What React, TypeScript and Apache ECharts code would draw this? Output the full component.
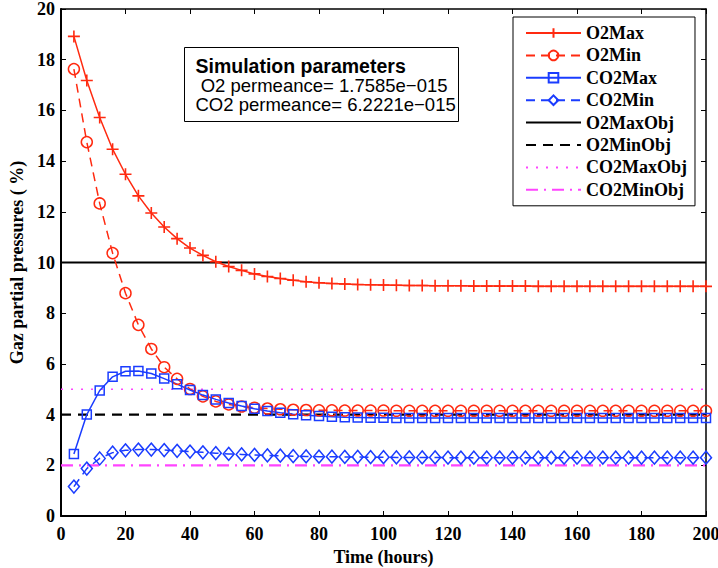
import React, { useEffect, useRef } from "react";
import * as echarts from "echarts";

const hours = [
  4, 8, 12, 16, 20, 24, 28, 32, 36, 40, 44, 48, 52, 56, 60, 64, 68, 72, 76, 80,
  84, 88, 92, 96, 100, 104, 108, 112, 116, 120, 124, 128, 132, 136, 140, 144, 148, 152, 156, 160,
  164, 168, 172, 176, 180, 184, 188, 192, 196, 200,
];

const o2Max = [
  18.92, 17.18, 15.72, 14.47, 13.48, 12.63, 11.95, 11.4, 10.94, 10.57, 10.28, 10.03, 9.84, 9.69, 9.55, 9.45, 9.37, 9.3, 9.24, 9.2,
  9.17, 9.15, 9.13, 9.12, 9.11, 9.1, 9.09, 9.09, 9.08, 9.08, 9.08, 9.07, 9.07, 9.07, 9.07, 9.07, 9.06, 9.06, 9.06, 9.06,
  9.06, 9.06, 9.06, 9.06, 9.06, 9.06, 9.06, 9.06, 9.06, 9.06,
];

const o2Min = [
  17.63, 14.75, 12.33, 10.37, 8.79, 7.54, 6.59, 5.87, 5.41, 5.01, 4.72, 4.52, 4.4, 4.32, 4.27, 4.24, 4.21, 4.19, 4.18, 4.17,
  4.17, 4.16, 4.16, 4.16, 4.16, 4.15, 4.15, 4.15, 4.15, 4.15, 4.15, 4.15, 4.15, 4.15, 4.15, 4.15, 4.15, 4.15, 4.15, 4.15,
  4.15, 4.15, 4.15, 4.15, 4.15, 4.15, 4.15, 4.15, 4.15, 4.15,
];

const co2Max = [
  2.45, 4.0, 4.95, 5.49, 5.71, 5.72, 5.62, 5.42, 5.2, 4.97, 4.77, 4.6, 4.46, 4.34, 4.23, 4.14, 4.07, 4.01, 3.97, 3.94,
  3.92, 3.9, 3.89, 3.88, 3.88, 3.87, 3.87, 3.87, 3.87, 3.87, 3.87, 3.87, 3.87, 3.87, 3.87, 3.87, 3.87, 3.87, 3.87, 3.87,
  3.87, 3.87, 3.87, 3.87, 3.87, 3.87, 3.87, 3.87, 3.87, 3.87,
];

const co2Min = [
  1.16, 1.87, 2.27, 2.5, 2.59, 2.62, 2.62, 2.6, 2.57, 2.54, 2.51, 2.48, 2.45, 2.43, 2.41, 2.39, 2.38, 2.36, 2.35, 2.34,
  2.34, 2.33, 2.33, 2.32, 2.32, 2.31, 2.31, 2.31, 2.31, 2.3, 2.3, 2.3, 2.3, 2.3, 2.3, 2.3, 2.3, 2.3, 2.3, 2.3,
  2.3, 2.3, 2.3, 2.3, 2.3, 2.3, 2.3, 2.3, 2.3, 2.3,
];

const objectiveNames = ["O2MaxObj", "O2MinObj", "CO2MaxObj", "CO2MinObj"];
const objectiveValues = [10, 4, 5, 2];
const objectiveSpan = [0, 200];

const boxTitle = "Simulation parameters";
const boxLines = [" O2 permeance= 1.7585e\u2212015", "CO2 permeance= 6.2221e\u2212015"];

const RED = "#ff2a10";
const BLUE = "#1a3cff";
const MAGENTA = "#ff44ff";
const SERIF = "'Liberation Serif', 'Times New Roman', serif";
const SANS = "'Liberation Sans', Arial, sans-serif";

export default function App() {
  const ref = useRef<HTMLDivElement>(null);

  useEffect(() => {
    if (!ref.current) return;
    const chart = echarts.init(ref.current, undefined, { renderer: "svg" });

    const pair = (arr: number[]) => hours.map((h, i) => [h, arr[i]]);
    const transparent = "rgba(0,0,0,0)";

    const objStyles = [
      { color: "#000", type: "solid", width: 2.2 },
      { color: "#000", type: [10, 7], width: 2.2 },
      { color: MAGENTA, type: [2, 8], width: 1.5 },
      { color: MAGENTA, type: [12, 6, 2, 6], width: 2.2 },
    ];

    const objSeries = objectiveNames.map((name, k) => ({
      name,
      type: "line",
      data: objectiveSpan.map((x) => [x, objectiveValues[k]]),
      showSymbol: false,
      symbol: "circle",
      symbolSize: 1,
      lineStyle: objStyles[k],
      itemStyle: { color: transparent, borderColor: transparent, borderWidth: 0 },
      z: 1,
    }));

    const option: any = {
      animation: false,
      textStyle: { fontFamily: SERIF },
      grid: { left: 61, right: 12, top: 9, bottom: 52, containLabel: false, outerBoundsMode: "none" },
      legend: {
        left: 513,
        top: 17,
        orient: "vertical",
        backgroundColor: "#fff",
        borderColor: "#000",
        borderWidth: 1,
        borderRadius: 0,
        padding: [7, 8, 7, 12],
        itemWidth: 55,
        itemHeight: 12,
        itemGap: 4.4,
        textStyle: { fontFamily: SERIF, fontWeight: "bold", fontSize: 18, color: "#000" },
        data: ["O2Max", "O2Min", "CO2Max", "CO2Min", ...objectiveNames],
      },
      xAxis: [
        {
          type: "value",
          min: 0,
          max: 200,
          interval: 20,
          name: "Time (hours)",
          nameLocation: "middle",
          nameGap: 29,
          nameTextStyle: { fontFamily: SERIF, fontWeight: "bold", fontSize: 18, color: "#000" },
          axisLine: { lineStyle: { color: "#000", width: 2 } },
          axisTick: { inside: true, length: 5, lineStyle: { color: "#000" } },
          axisLabel: { fontFamily: SERIF, fontWeight: "bold", fontSize: 18, color: "#000", margin: 9 },
          splitLine: { show: false },
        },
        {
          type: "value",
          position: "top",
          min: 0,
          max: 200,
          interval: 20,
          axisLine: { onZero: false, lineStyle: { color: "#000", width: 1.5 } },
          axisTick: { inside: true, length: 5, lineStyle: { color: "#000" } },
          axisLabel: { show: false },
          splitLine: { show: false },
        },
      ],
      yAxis: [
        {
          type: "value",
          min: 0,
          max: 20,
          interval: 2,
          name: "Gaz partial pressures ( %)",
          nameLocation: "middle",
          nameGap: 33,
          nameTextStyle: { fontFamily: SERIF, fontWeight: "bold", fontSize: 18, color: "#000" },
          axisLine: { show: true, lineStyle: { color: "#000", width: 2 } },
          axisTick: { show: true, inside: true, length: 5, lineStyle: { color: "#000" } },
          axisLabel: { fontFamily: SERIF, fontWeight: "bold", fontSize: 18, color: "#000", margin: 6 },
          splitLine: { show: false },
        },
        {
          type: "value",
          position: "right",
          min: 0,
          max: 20,
          interval: 2,
          axisLine: { show: true, onZero: false, lineStyle: { color: "#000", width: 1.5 } },
          axisTick: { show: true, inside: true, length: 5, lineStyle: { color: "#000" } },
          axisLabel: { show: false },
          splitLine: { show: false },
        },
      ],
      series: [
        ...objSeries,
        {
          name: "O2Max",
          type: "line",
          data: pair(o2Max),
          symbol: "path://M0,6L12,6M6,0L6,12",
          symbolSize: 12,
          lineStyle: { color: RED, width: 1.5 },
          itemStyle: { color: transparent, borderColor: RED, borderWidth: 1.6 },
          z: 3,
        },
        {
          name: "O2Min",
          type: "line",
          data: pair(o2Min),
          symbol: "circle",
          symbolSize: 11,
          lineStyle: { color: RED, width: 1.5, type: [9, 6] },
          itemStyle: { color: transparent, borderColor: RED, borderWidth: 1.5 },
          z: 3,
        },
        {
          name: "CO2Max",
          type: "line",
          data: pair(co2Max),
          symbol: "rect",
          symbolSize: 9,
          lineStyle: { color: BLUE, width: 1.5 },
          itemStyle: { color: transparent, borderColor: BLUE, borderWidth: 1.5 },
          z: 3,
        },
        {
          name: "CO2Min",
          type: "line",
          data: pair(co2Min),
          symbol: "diamond",
          symbolSize: [11, 13],
          lineStyle: { color: BLUE, width: 1.5, type: [9, 6] },
          itemStyle: { color: transparent, borderColor: BLUE, borderWidth: 1.5 },
          z: 3,
        },
      ],
      graphic: [
        {
          type: "group",
          left: 184,
          top: 47,
          z: 10,
          children: [
            {
              type: "rect",
              shape: { x: 0, y: 0, width: 274, height: 74 },
              style: { fill: "#fff", stroke: "#000", lineWidth: 1 },
            },
            {
              type: "text",
              x: 11,
              y: 18,
              style: {
                text: boxTitle,
                font: `bold 19.5px ${SANS}`,
                fill: "#000",
                textVerticalAlign: "middle",
              },
            },
            ...boxLines.map((t, i) => ({
              type: "text",
              x: 11,
              y: 38 + i * 19,
              style: {
                text: t,
                font: `18.5px ${SANS}`,
                fill: "#000",
                textVerticalAlign: "middle",
              },
            })),
          ],
        },
      ],
    };

    chart.setOption(option);
    return () => chart.dispose();
  }, []);

  return <div ref={ref} style={{ width: 718, height: 568, position: "absolute", left: 0, top: 0 }} />;
}
